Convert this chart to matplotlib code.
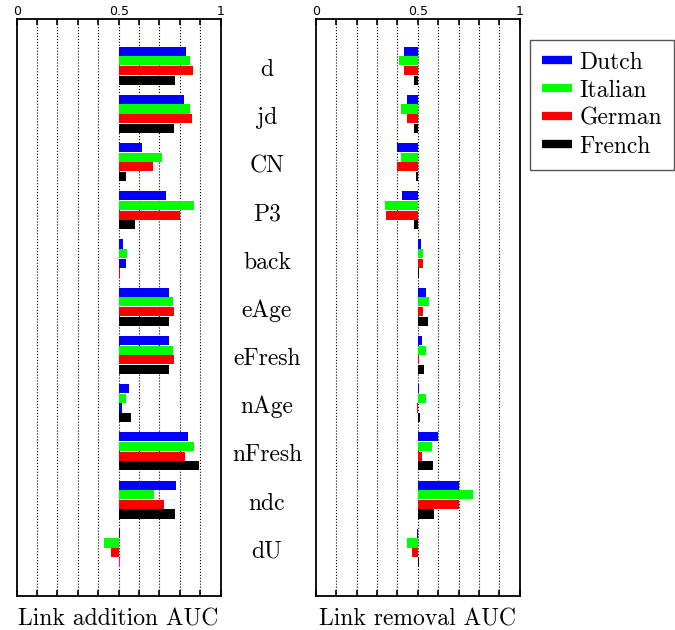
import numpy as np
import matplotlib
matplotlib.use('Agg')
import matplotlib.pyplot as plt
from matplotlib.lines import Line2D
from matplotlib.transforms import blended_transform_factory

# features (one row of bars per feature)
categories = ['d', 'jd', 'CN', 'P3', 'back', 'eAge', 'eFresh', 'nAge', 'nFresh', 'ndc', 'dU']
languages = ['Dutch', 'Italian', 'German', 'French']

# link addition AUC per language
add_dutch   = [0.828, 0.819, 0.614, 0.732, 0.521, 0.747, 0.747, 0.551, 0.840, 0.781, 0.506]
add_italian = [0.850, 0.850, 0.712, 0.869, 0.541, 0.766, 0.766, 0.536, 0.869, 0.673, 0.428]
add_german  = [0.863, 0.859, 0.668, 0.801, 0.536, 0.771, 0.771, 0.516, 0.825, 0.722, 0.462]
add_french  = [0.776, 0.770, 0.536, 0.580, 0.507, 0.747, 0.747, 0.560, 0.894, 0.776, 0.506]

# link removal AUC per language
rem_dutch   = [0.431, 0.446, 0.400, 0.422, 0.515, 0.539, 0.520, 0.506, 0.598, 0.701, 0.494]
rem_italian = [0.407, 0.417, 0.417, 0.338, 0.525, 0.554, 0.539, 0.539, 0.569, 0.770, 0.446]
rem_german  = [0.431, 0.446, 0.400, 0.343, 0.525, 0.525, 0.506, 0.494, 0.520, 0.701, 0.471]
rem_french  = [0.480, 0.480, 0.490, 0.480, 0.505, 0.549, 0.529, 0.510, 0.574, 0.578, 0.505]

colors = ['#0000ff', '#00ff00', '#ff0000', '#000000']
# the original figure had a few odd coloured bars in the addition panel
add_color_fix = {(4, 2): '#0000ff', (4, 3): '#ff0000', (7, 2): '#0000ff', (10, 3): '#ff00ff'}

serif = 'cmr10'
plt.rcParams['font.size'] = 9

fig = plt.figure(figsize=(6.75, 6.3), dpi=100)
ax1 = fig.add_axes([0.0247, 0.054, 0.3022, 0.916])
ax2 = fig.add_axes([0.468, 0.054, 0.3022, 0.916])

offsets = [-0.3, -0.1, 0.1, 0.3]
y = np.arange(len(categories))


def draw_panel(ax, series, fixes, xlabel):
    for k, vals in enumerate(series):
        cols = []
        for i in range(len(categories)):
            cols.append(fixes.get((i, k), colors[k]))
        ax.barh(y + offsets[k], np.array(vals) - 0.5, left=0.5, height=0.19,
                color=cols, edgecolor='none', zorder=3)
    ax.set_xlim(0, 1)
    ax.set_ylim(11.0, -0.97)
    ticks = np.round(np.arange(0, 1.01, 0.1), 1)
    ax.set_xticks(ticks)
    ax.set_xticklabels(['0' if t == 0 else '0.5' if t == 0.5 else '1' if t == 1 else '' for t in ticks])
    ax.tick_params(axis='x', top=True, bottom=True, labeltop=True, labelbottom=False,
                   direction='in', length=4, width=1.2, pad=1, labelsize=9)
    ax.set_yticks([])
    for t in ticks[1:-1]:
        ax.axvline(t, color='black', ls=':', lw=0.8, zorder=1)
    for s in ax.spines.values():
        s.set_linewidth(1.3)
    ax.set_xlabel(xlabel, family=serif, fontsize=17, labelpad=9)


draw_panel(ax1, [add_dutch, add_italian, add_german, add_french], add_color_fix, 'Link addition AUC')
draw_panel(ax2, [rem_dutch, rem_italian, rem_german, rem_french], {}, 'Link removal AUC')

# feature names between the two panels
tr = blended_transform_factory(ax1.transAxes, ax1.transData)
for i, name in enumerate(categories):
    ax1.text(1.227, i + 0.03, name, transform=tr, ha='center', va='center_baseline',
             family=serif, fontsize=17)

handles = [Line2D([], [], color=c, lw=6, solid_capstyle='butt') for c in colors]
leg = fig.legend(handles, languages, loc='upper left', bbox_to_anchor=(0.785, 0.937),
                 prop={'family': serif, 'size': 17}, fancybox=False, framealpha=1,
                 edgecolor='#555555', handlelength=1.3, handletextpad=0.3,
                 labelspacing=0.25, borderpad=0.5, borderaxespad=0)
leg.get_frame().set_linewidth(1.0)

fig.savefig('out.png', dpi=100)
